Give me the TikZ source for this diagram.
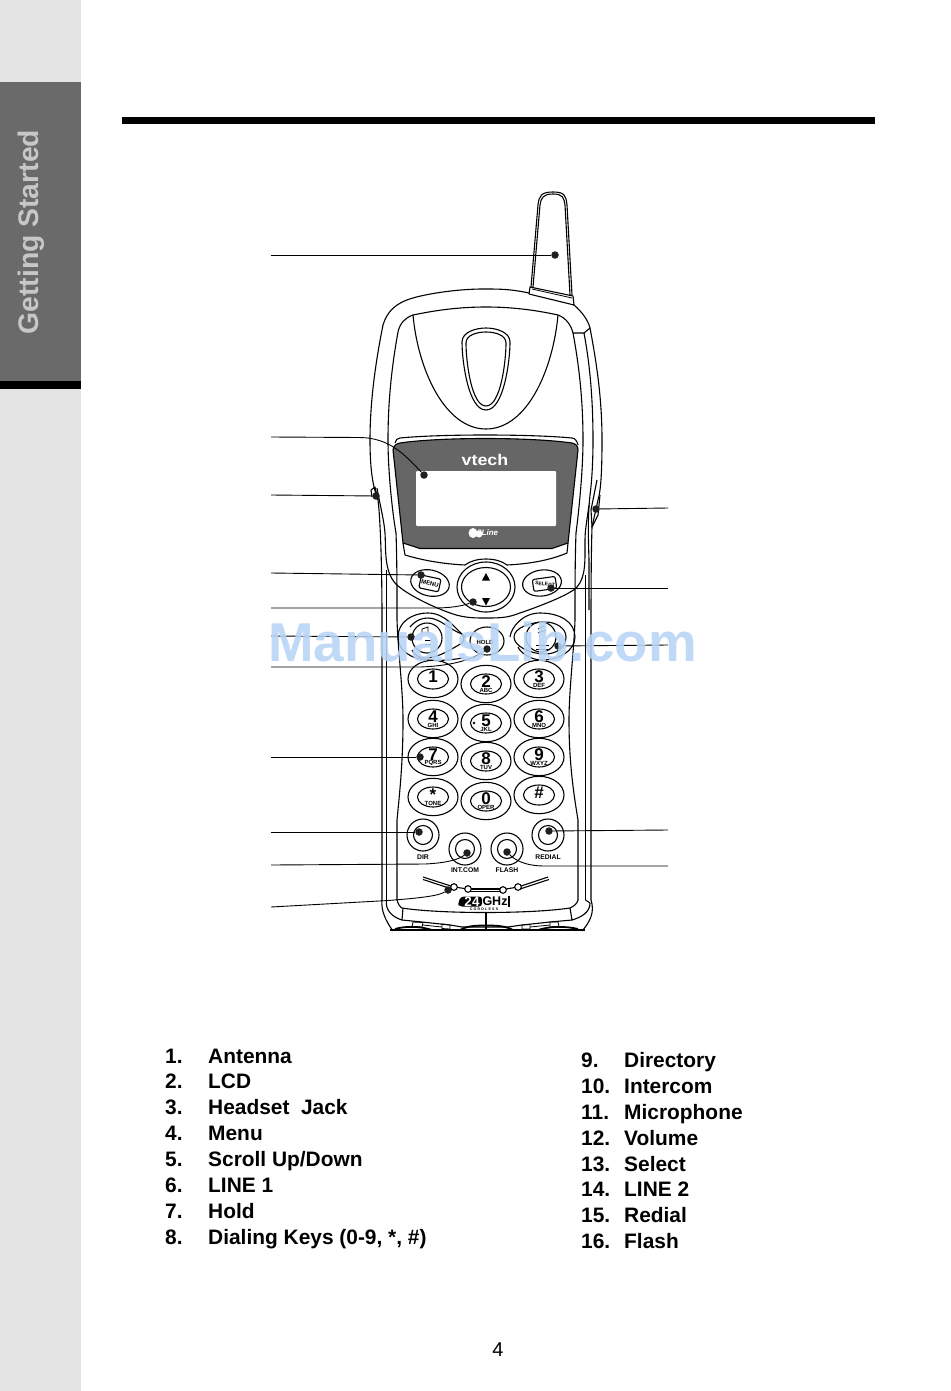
\documentclass[tikz,border=0pt]{standalone}
\usepackage{fontspec}
\setmainfont{Liberation Sans}
\definecolor{strip}{HTML}{E4E4E4}
\definecolor{tabgray}{HTML}{6A6A6A}
\definecolor{lcdgray}{HTML}{666666}
\definecolor{wm}{HTML}{B8D4F6}
\tikzset{
  ln/.style={draw=black,line width=1.1pt,line join=round},
  thin ln/.style={draw=black,line width=0.8pt},
  heavy ln/.style={draw=black,line width=1.8pt},
  leader/.style={draw=black,line width=0.9pt},
  dot/.style={circle,fill=black!88,inner sep=0pt,minimum size=7.5pt},
  listnum/.style={anchor=base west,inner sep=0pt,font=\fontsize{20.9}{24}\selectfont\bfseries},
  keyd/.style={inner sep=0pt,font=\fontsize{17}{17}\selectfont\bfseries},
  keys/.style={inner sep=0pt,font=\fontsize{6}{6}\selectfont\bfseries},
  btn/.style={inner sep=0pt,font=\fontsize{6.8}{7}\selectfont\bfseries}
}
\newcommand{\phonekey}[5]{% name x y digit sub
  \draw[ln] (#2,#3) ellipse [x radius=25,y radius=18.7];
  \draw[ln] (#2,#3) ellipse [x radius=15.5,y radius=10];
  \node[keyd] (#1d) at (#2,#3-2.5) {#4};
  \node[keys] (#1s) at (#2,#3+6) {#5};
}
\newcommand{\roundbtn}[5]{% name x y label laby
  \draw[ln] (#2,#3) circle [radius=16];
  \draw[ln] (#2,#3) circle [radius=9.5];
  \node[btn] (#1) at (#2,#5) {#4};
}
\begin{document}
\begin{tikzpicture}[x=1pt,y=-1pt]
\useasboundingbox (0,0) rectangle (950,1391);
\fill[white] (0,0) rectangle (950,1391);
\fill[strip] (0,0) rectangle (81,1391);
\fill[tabgray] (0,82) rectangle (81,381);
\fill[black] (0,381) rectangle (81,389);
\node[rotate=90,text=black!22,inner sep=0pt,font=\fontsize{28.3}{30}\selectfont\bfseries] (tab) at (31,232) {Getting Started};
\fill[black] (122,117) rectangle (875,124);

% antenna
\draw[ln] (531,287) -- (538,205) .. controls (539,196) and (541,192) .. (553,192) .. controls (565,192) and (566,196) .. (567,205) -- (572,295);
\draw[ln] (533,287) -- (540,205) .. controls (541,198) and (543,194) .. (553,194) .. controls (563,194) and (564,198) .. (565,205) -- (570,295);
\draw[ln] (530,287) -- (573,296) -- (574,305) -- (529,294) -- cycle;
\draw[thin ln] (532,289) -- (572,298);
% outer body
\draw[ln] (529,293) .. controls (510,289) and (500,289) .. (483,289) .. controls (460,289) and (430,293) .. (413,298) .. controls (395,303) and (387,312) .. (383,325) .. controls (376,360) and (370,400) .. (370,440) .. controls (370,465) and (372,485) .. (378,500) .. controls (380,515) and (382,560) .. (382,620) -- (382,900);
\draw[ln] (574,305) .. controls (582,312) and (588,320) .. (590,328) .. controls (597,365) and (602,400) .. (602,440) .. controls (602,470) and (601,490) .. (598,500) -- (592,527) .. controls (591,560) and (591,600) .. (591,640) -- (591,900);
\draw[ln] (413,315) .. controls (437,310) and (460,307) .. (486,307) .. controls (512,307) and (535,310) .. (558,315);
% left and right inner line running down to the keypad contour
\draw[ln] (413,315) .. controls (405,318) and (400,323) .. (398,332) .. controls (392,365) and (388,400) .. (388,440) .. controls (388,470) and (392,510) .. (396,533) .. controls (397,560) and (397,590) .. (397,620) .. controls (398,650) and (403,690) .. (403,720) .. controls (403,760) and (400,790) .. (397,820) -- (397,900);
\draw[ln] (558,315) .. controls (566,318) and (571,325) .. (573,333) .. controls (579,365) and (583,400) .. (583,440) .. controls (583,470) and (579,510) .. (576,533) .. controls (575,560) and (575,590) .. (575,620) .. controls (574,650) and (569,690) .. (569,720) .. controls (569,760) and (573,790) .. (578,820) -- (578,900);
\draw[ln] (573,333) -- (584,333) -- (590,328);
\draw[ln] (584,333) .. controls (590,365) and (593,400) .. (593,440) .. controls (593,460) and (592,480) .. (590,495) .. controls (588,515) and (588,530) .. (589,560) -- (589,610);
% long vertical lines
\draw[ln] (386.5,570) -- (386.5,900);
\draw[ln] (585.5,575) -- (585.5,900);
% dome & teardrop
\draw[ln] (413,315) .. controls (418,370) and (445,429) .. (486,429) .. controls (527,429) and (553,370) .. (558,315);
\draw[ln] (462,342) .. controls (462,332) and (476,328) .. (486,328) .. controls (496,328) and (510,332) .. (510,342) .. controls (510,360) and (504,410) .. (486,410) .. controls (468,410) and (462,360) .. (462,342) -- cycle;
\draw[ln] (466,343) .. controls (466,335) and (477,332) .. (486,332) .. controls (495,332) and (506,335) .. (506,343) .. controls (506,360) and (501,406) .. (486,406) .. controls (471,406) and (466,360) .. (466,343) -- cycle;

% LCD surround
\draw[ln] (395,443) .. controls (396,440) and (397,438) .. (400,438) .. controls (440,434) and (530,434) .. (572,438) .. controls (575,438) and (577,441) .. (578,445);
\draw[ln,fill=lcdgray] (393,450) .. controls (394,445) and (396,444) .. (400,443) .. controls (440,437) and (530,437) .. (572,443) .. controls (576,444) and (578,446) .. (578,450) -- (568,543) -- (552,548.5) -- (420,548.5) -- (403,543) -- cycle;
\fill[white,rounded corners=1pt] (416,471) rectangle (556,526);
\node[text=white,inner sep=0pt,xscale=1.15,font=\fontsize{15.5}{16}\selectfont\bfseries] (brand) at (485,460) {vtech};
\fill[white] (473,533) ellipse [x radius=4.5,y radius=5];
\fill[white] (479,534) ellipse [x radius=3.5,y radius=3.5];
\node[text=white,inner sep=0pt,anchor=west,font=\fontsize{8}{8}\selectfont\bfseries\itshape] (lineb) at (477,533) {2Line};
% panels below LCD
\draw[ln] (403,543) -- (405,555) .. controls (425,561) and (445,564) .. (465,565) .. controls (470,561) and (478,559) .. (486,559) .. controls (494,559) and (502,561) .. (507,565) .. controls (527,564) and (548,561) .. (567,553) -- (568,543);
\draw[ln] (377,488) .. controls (380,505) and (384,520) .. (385,533) .. controls (386,550) and (384,570) .. (395,583) .. controls (405,594) and (435,608) .. (453,614) .. controls (465,618) and (475,618) .. (486,618) .. controls (497,618) and (507,618) .. (517,614) .. controls (535,608) and (570,595) .. (577,587) .. controls (586,577) and (585,560) .. (585,540) .. controls (585,530) and (587,520) .. (589,505);
% side bumps
\draw[ln] (372,497) -- (371,490) -- (375,487) -- (378,500);
\draw[ln] (597,480) -- (594,495) -- (591,510) -- (592,527);
\draw[ln] (600,495) -- (598,515) -- (592,527);
% buttons top row
\draw[ln,rotate around={-12:(430,583)}] (430,583) ellipse [x radius=19.5,y radius=13];
\draw[ln,rounded corners=2pt,rotate around={-12:(430,583)}] (420,577) rectangle (440,590);
\node[btn,rotate=-14,font=\fontsize{6}{6}\selectfont\bfseries] (menu) at (430,583.5) {MENU};
\draw[ln,rotate around={8:(542,583)}] (542,583) ellipse [x radius=19.5,y radius=13];
\draw[ln,rounded corners=2pt,rotate around={8:(544,584)}] (533,578) rectangle (556,590);
\node[btn,rotate=-6,font=\fontsize{5}{5}\selectfont\bfseries] (select) at (545,584) {SELECT};
\draw[ln] (486,587) ellipse [x radius=29,y radius=25];
\draw[ln] (486,587) ellipse [x radius=24.5,y radius=19.5];
\fill[black] (486,573) -- (490,580.5) -- (482,580.5) -- cycle;
\fill[black] (486,605.5) -- (490,598) -- (482,598) -- cycle;
% line 1 / hold / line 2
\draw[ln] (463,658) .. controls (450,660) and (440,661) .. (428,660) .. controls (410,659) and (398,650) .. (398,637) .. controls (398,622) and (412,613) .. (428,613) .. controls (445,613) and (455,628) .. (465,637);
\draw[ln] (410,627) .. controls (416,620) and (422,618) .. (428,618) .. controls (440,618) and (450,630) .. (462,634) .. controls (465,637) and (464,641) .. (462,643) .. controls (450,650) and (438,658) .. (425,658) .. controls (418,658) and (414,654) .. (412,650);
\draw[ln] (427,638) circle [radius=15];
\draw[thin ln] (422,634) -- (422,629) -- (428,627) -- (428,633);
\draw[thin ln] (425,640) -- (431,640) (425,644) -- (431,644);
\draw[ln] (487,641) ellipse [x radius=17,y radius=14];
\node[btn,font=\fontsize{6}{6}\selectfont\bfseries] (hold) at (485,642) {HOLD};
\draw[ln] (510,637) .. controls (511,628) and (522,613) .. (540,613) .. controls (560,613) and (575,622) .. (575,637) .. controls (575,650) and (560,660) .. (542,660) .. controls (530,660) and (520,652) .. (518,647);
\draw[ln] (514,637) .. controls (514,628) and (530,622) .. (545,622) .. controls (556,622) and (566,628) .. (566,637) .. controls (566,648) and (556,654) .. (545,654) .. controls (530,654) and (514,646) .. (514,637) -- cycle;
\draw[ln] (541,637) circle [radius=15];
\draw[thin ln] (536,645) -- (549,645) (536,649) -- (549,649);
\draw[thin ln] (538,629) -- (544,626) (538,633) -- (546,630);
% keys
\phonekey{kone}{433}{679}{1}{}
\phonekey{ktwo}{486}{684}{2}{ABC}
\phonekey{kthree}{539}{679}{3}{DEF}
\phonekey{kfour}{433}{719}{4}{GHI}
\phonekey{kfive}{486}{723}{5}{JKL}
\phonekey{ksix}{539}{719}{6}{MNO}
\phonekey{kseven}{433}{757}{7}{PQRS}
\phonekey{keight}{486}{761}{8}{TUV}
\phonekey{knine}{539}{757}{9}{WXYZ}
\phonekey{kstar}{433}{797}{*}{TONE}
\phonekey{kzero}{486}{801}{0}{OPER}
\phonekey{khash}{539}{795}{\#}{}
\fill[black] (474,723) circle [radius=1.3];
% round buttons
\roundbtn{dir}{423}{835}{DIR}{857}
\roundbtn{redial}{548}{835}{REDIAL}{857}
\roundbtn{intcom}{465}{849}{INT.COM}{870}
\roundbtn{flash}{507}{849}{FLASH}{870}
% microphone grille
\draw[ln] (423,877) -- (454,887);
\draw[ln] (423,879.5) -- (452,889);
\draw[ln] (548,877) -- (518,887);
\draw[ln] (549,879.5) -- (520,889);
\draw[ln] (454,887) -- (468,889);
\draw[ln] (518,887) -- (503,889.5);
\draw[ln] (468,889) -- (503,889);
\draw[ln] (468,891.5) -- (503,891.5);
\foreach \mx/\my in {454/887,468/889,503/890,518/887}
  \draw[ln,fill=white] (\mx,\my) circle [radius=3.3];
% 2.4 GHz logo
\fill[black,rounded corners=3pt] (461,896.5) -- (482,896.5) -- (482,906.5) -- (459,906.5) -- (458,903) -- cycle;
\node[text=white,inner sep=0pt,font=\fontsize{13.5}{13.5}\selectfont\bfseries] (two) at (472,901.5) {24};
\node[inner sep=0pt,font=\fontsize{12.5}{13}\selectfont\bfseries] (ghz) at (495,901.5) {GHz};
\draw[line width=1.6pt] (509,895.5) -- (509,907);
\node[inner sep=0pt,font=\fontsize{3.6}{4}\selectfont\bfseries] (cordless) at (484,909) {C\,\,O\,\,R\,\,D\,\,L\,\,E\,\,S\,\,S};
% bottom
\draw[ln] (397,900) .. controls (398,904) and (400,907) .. (402,908) .. controls (440,914) and (530,914) .. (570,908) .. controls (574,906) and (577,904) .. (578,900);
\draw[ln] (382,900) .. controls (381,910) and (385,920) .. (393,931);
\draw[ln] (591,900) .. controls (595,912) and (590,922) .. (582,931);
\draw[ln] (386.5,900) .. controls (385,910) and (392,917) .. (402,920) -- (403,908);
\draw[ln] (585.5,900) -- (590,903) .. controls (590,912) and (582,917) .. (572,920) -- (570,908);
\draw[ln] (402,920) -- (422,922) -- (450,925) -- (462,927) -- (508,927) -- (522,925) -- (550,922) -- (572,920);
\draw[heavy ln] (390,930) -- (585,930);
\draw[ln] (486,912) -- (486,930);
\draw[heavy ln] (460,930) .. controls (467,926) and (475,925.5) .. (486,925.5) .. controls (497,925.5) and (506,926) .. (513,930);
\draw[thin ln] (413,922) -- (423,922.5) -- (422,927) -- (412,926.5) -- cycle;
\draw[thin ln] (442,924) -- (450,925) -- (450,929) -- (442,928.5) -- cycle;
\draw[thin ln] (522,925) -- (530,924.5) -- (530,929) -- (522,929) -- cycle;
\draw[thin ln] (550,922) -- (558,922) -- (559,926.5) -- (550,927) -- cycle;
\draw[thin ln] (423,925) -- (442,927) (530,927) -- (550,925);
\draw[heavy ln] (395,929) .. controls (405,926) and (420,926) .. (432,930);
\draw[heavy ln] (538,930) .. controls (550,926) and (565,926) .. (578,929);

% leader ends
\foreach \nm/\px/\py in {d1/555/255,d2/424/475,d3/376/496,d4/421/575,d5/473/602,d6/411/637,d7/487/649,d8/420/757,d9/419/832,d10/467/853,d11/448/890,d12/596/509,d13/551/588,d14/558/646,d15/549/831,d16/507/852}
  \node[dot] (\nm) at (\px,\py) {};
\foreach \nm/\py in {a1/255,a2/437,a3/495,a4/573,a5/608,a6/636,a7/667,a8/757,a9/832,a10/865,a11/907}
  \coordinate (\nm) at (271,\py);
\foreach \nm/\py in {a12/508,a13/588,a14/645,a15/830,a16/866}
  \coordinate (\nm) at (668,\py);
\draw[leader] (a1) -- (d1);
\draw[leader] (a2) -- (360,437.5) .. controls (390,438) and (405,455) .. (d2);
\draw[leader] (a3) -- (d3);
\draw[leader] (a4) -- (d4);
\draw[leader] (a5) -- (435,608) .. controls (450,608) and (462,606) .. (d5);
\draw[leader] (a6) -- (d6);
\draw[leader] (a7) -- (420,667) .. controls (450,666) and (472,660) .. (d7);
\draw[leader] (a8) -- (d8);
\draw[leader] (a9) -- (d9);
\draw[leader] (a10) -- (425,864) .. controls (445,863) and (458,860) .. (d10);
\draw[leader] (a11) -- (388,900.5) .. controls (420,898) and (438,896) .. (d11);
\draw[leader] (a12) -- (d12);
\draw[leader] (a13) -- (d13);
\draw[leader] (a14) -- (d14);
\draw[leader] (a15) -- (d15);
\draw[leader] (a16) -- (545,866) .. controls (525,866) and (515,860) .. (d16);

% legend
\foreach \n/\t/\y in {1./Antenna/1063,2./LCD/1088,3./Headset\ \ Jack/1114,4./Menu/1140,5./Scroll Up\slash Down/1166,6./LINE 1/1192,7./Hold/1218,8./{Dialing Keys (0-9, *, \#)}/1244}{
  \node[listnum] at (165,\y) {\n};
  \node[listnum] at (208,\y) {\t};
}
\foreach \n/\t/\y in {9./Directory/1067,10./Intercom/1093,11./Microphone/1119,12./Volume/1145,13./Select/1171,14./LINE 2/1196,15./Redial/1222,16./Flash/1248}{
  \node[listnum] at (581,\y) {\n};
  \node[listnum] at (624,\y) {\t};
}
\node[inner sep=0pt,font=\fontsize{20}{20}\selectfont] (page) at (498,1350) {4};
% watermark
\node[text=wm,opacity=0.88,inner sep=0pt,font=\fontsize{54.7}{55}\selectfont\bfseries] (wmark) at (482.5,642) {ManualsLib.com};
\end{tikzpicture}
\end{document}
